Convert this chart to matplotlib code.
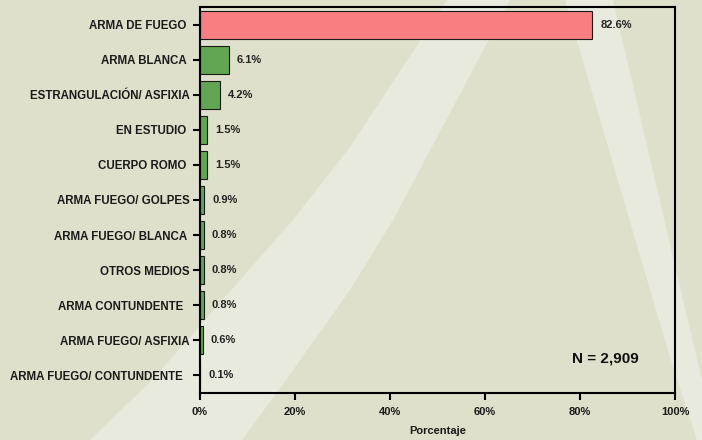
import matplotlib
matplotlib.use('Agg')
import matplotlib.pyplot as plt
from matplotlib.patches import Polygon

plt.rcParams['font.family'] = ['Liberation Sans', 'DejaVu Sans']
plt.rcParams['font.weight'] = 'bold'

categories = ['ARMA DE FUEGO ', 'ARMA BLANCA ', 'ESTRANGULACIÓN/ ASFIXIA',
              'EN ESTUDIO ', 'CUERPO ROMO ', 'ARMA FUEGO/ GOLPES',
              'ARMA FUEGO/ BLANCA ', 'OTROS MEDIOS', 'ARMA CONTUNDENTE  ',
              'ARMA FUEGO/ ASFIXIA', 'ARMA FUEGO/ CONTUNDENTE  ']
values = [82.6, 6.1, 4.2, 1.5, 1.5, 0.9, 0.8, 0.8, 0.8, 0.6, 0.1]
x_ticks = [0, 20, 40, 60, 80, 100]
x_tick_labels = ['0%', '20%', '40%', '60%', '80%', '100%']
total_label = 'N = 2,909'

BG = '#dfe0cb'
BAND = '#e9eade'
PINK = '#f77f82'
GREEN = '#62a552'

fig = plt.figure(figsize=(7.02, 4.40), dpi=100, facecolor=BG)

# background swooshes, drawn in pixel space
bg = fig.add_axes([0, 0, 1, 1], zorder=-1)
bg.set_xlim(0, 702)
bg.set_ylim(440, 0)
bg.axis('off')
big_band = [(455, -10), (447, 0), (350, 147), (293, 220), (152, 380), (90, 440), (80, 455),
            (232, 455), (242, 440), (286, 380), (350, 290), (393, 220), (510, 0), (515, -10)]
right_band = [(562, -10), (565, 0), (653, 300), (673, 367), (697, 440), (720, 440),
              (720, 400), (702, 380), (683, 300), (613, 0), (611, -10)]
for pts in (big_band, right_band):
    bg.add_patch(Polygon(pts, closed=True, facecolor=BAND, edgecolor='none'))

ax = fig.add_axes([200 / 702, 1 - 392.7 / 440, 475 / 702, 385.4 / 440])
ax.set_facecolor('none')

colors = [PINK] + [GREEN] * (len(values) - 1)
pos = list(range(len(categories)))
ax.barh(pos, values, height=0.8, color=colors, edgecolor='#1a1a1a', linewidth=0.8)

for p, v in zip(pos, values):
    ax.annotate('{:.1f}%'.format(v), xy=(v, p), xytext=(8, 0), textcoords='offset pixels',
                va='center', ha='left', fontsize=8, fontweight='bold', color='#222222')

ax.set_ylim(len(categories) - 0.5, -0.5)
ax.set_xlim(0, 100)
ax.set_yticks(pos)
ax.set_yticklabels(categories, fontsize=8.3, fontweight='bold', color='#1a1a1a')
ax.set_xticks(x_ticks)
ax.set_xticklabels(x_tick_labels, fontsize=8, fontweight='bold', color='#1a1a1a')
ax.tick_params(axis='y', length=5, width=1.5, pad=2.5)
ax.tick_params(axis='x', length=5, width=1.5, pad=5)
for s in ax.spines.values():
    s.set_linewidth(1.5)
    s.set_color('black')

ax.set_xlabel('Porcentaje', fontsize=8, fontweight='bold', color='#1a1a1a', labelpad=7)

ax.text(0.853, 0.09, total_label, transform=ax.transAxes, ha='center', va='center',
        fontsize=11, fontweight='bold', color='#111111')

plt.savefig('out.png', dpi=100, facecolor=BG)
